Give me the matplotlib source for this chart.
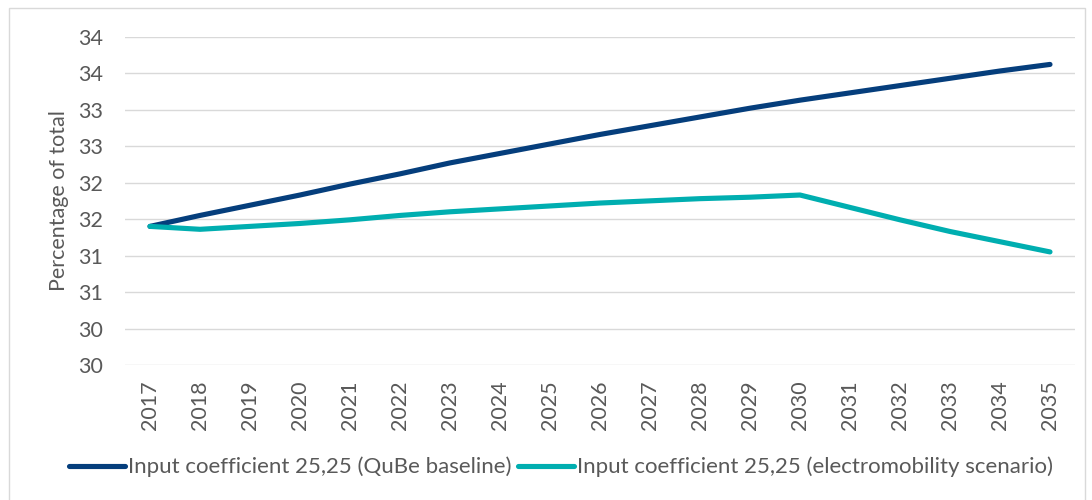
import matplotlib.pyplot as plt
from matplotlib.patches import Rectangle

# ---------- Data ----------

years = [str(y) for y in range(2017, 2036)]

baseline = [31.40, 31.55, 31.69, 31.83, 31.98, 32.12, 32.27, 32.40, 32.53, 32.66,
            32.78, 32.90, 33.02, 33.13, 33.23, 33.33, 33.43, 33.53, 33.62]

electromobility = [31.40, 31.36, 31.40, 31.44, 31.49, 31.55, 31.60, 31.64, 31.68, 31.72,
                   31.75, 31.78, 31.80, 31.83, 31.66, 31.49, 31.33, 31.19, 31.05]

y_ticks = [29.5, 30.0, 30.5, 31.0, 31.5, 32.0, 32.5, 33.0, 33.5, 34.0]
y_tick_labels = ['30', '30', '31', '31', '32', '32', '33', '33', '34', '34']

labels = ['Input coefficient 25,25 (QuBe baseline)',
          'Input coefficient 25,25 (electromobility scenario)']

# ---------- Plot ----------

plt.rcParams['font.family'] = ['Lato', 'DejaVu Sans']
text_color = '#595959'

fig = plt.figure(figsize=(10.92, 5.0), dpi=100)
ax = fig.add_axes([125 / 1092, 1 - 365 / 500, 950 / 1092, (365 - 36.7) / 500])

x = list(range(len(years)))
ax.plot(x, baseline, color='#053E7C', linewidth=3.7, solid_capstyle='round',
        label=labels[0], zorder=3)
ax.plot(x, electromobility, color='#00AEB0', linewidth=3.7, solid_capstyle='round',
        label=labels[1], zorder=3)

ax.set_xlim(-0.5, len(years) - 0.5)
ax.set_ylim(29.5, 34.0)
ax.set_xticks(x)
ax.set_xticklabels(years, rotation=90)
ax.set_yticks(y_ticks)
ax.set_yticklabels(y_tick_labels)

ax.grid(axis='y', color='#D9D9D9', linewidth=1.0)
ax.set_axisbelow(True)
for s in ax.spines.values():
    s.set_visible(False)

ax.tick_params(axis='both', length=0, colors=text_color, labelsize=15.5)
ax.tick_params(axis='y', pad=16)
ax.tick_params(axis='x', pad=11)
ax.set_ylabel('Percentage of total', color=text_color, fontsize=15.5, labelpad=6)

leg = fig.legend(loc='center', bbox_to_anchor=(561 / 1092, 1 - 467 / 500), ncol=2,
                 frameon=False, fontsize=16, handlelength=2.5, handletextpad=0.15,
                 columnspacing=0.3, labelcolor=text_color)
for line in leg.get_lines():
    line.set_linewidth(3.7)
    line.set_solid_capstyle('round')

# outer chart border
fig.patches.append(Rectangle((9 / 1092, -0.02), 1076 / 1092, 1.02 - 8 / 500,
                             transform=fig.transFigure, fill=False,
                             edgecolor='#D9D9D9', linewidth=1.0))

fig.savefig('out.png', dpi=100)
